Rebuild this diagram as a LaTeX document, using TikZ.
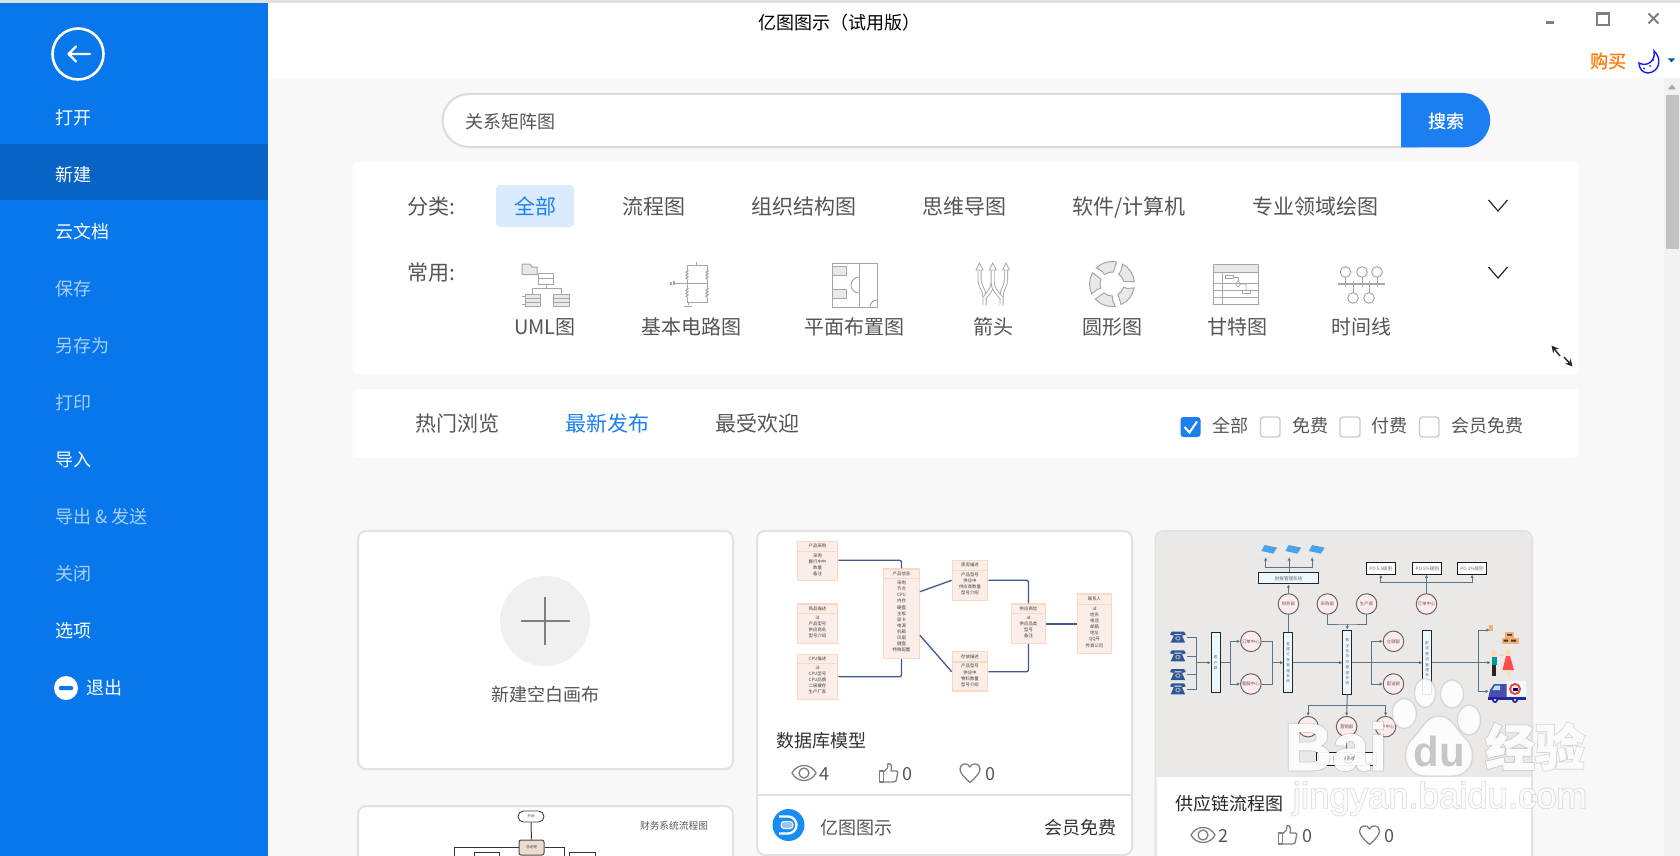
\documentclass[tikz,border=0pt]{standalone}
\usepackage{fontspec}
\setmainfont{Noto Sans CJK SC}
\newfontfamily\wmsans{Liberation Sans}
\usetikzlibrary{arrows.meta,calc,decorations.pathmorphing}
\definecolor{sideblue}{HTML}{0977EC}
\definecolor{sidedark}{HTML}{0863C4}
\definecolor{sidedim}{HTML}{A9CFF7}
\definecolor{pagebg}{HTML}{F8F8F8}
\definecolor{txtgray}{HTML}{555555}
\definecolor{accent}{HTML}{1B7FF2}
\definecolor{cardline}{HTML}{E2E2E2}
\definecolor{icongray}{HTML}{A6A6A6}
\definecolor{iconfill}{HTML}{E8E8E8}
\definecolor{statgray}{HTML}{808080}
\definecolor{dbline}{HTML}{FAD9C2}
\definecolor{dbfill}{HTML}{FBEEE8}
\definecolor{dbconn}{HTML}{41598F}
\definecolor{scline}{HTML}{587587}
\definecolor{scbg}{HTML}{EAE9E8}
\definecolor{lapblue}{HTML}{4AA3E8}
\definecolor{phoneblue}{HTML}{2F5597}
\tikzset{
 tb/.style={inner sep=0pt,text height=16.8pt,text depth=1.2pt,font=\fontsize{18}{20}\selectfont},
 tc/.style={inner sep=0pt,text height=18.6pt,text depth=1.4pt,font=\fontsize{21}{23}\selectfont,text=txtgray},
 tl/.style={inner sep=0pt,text height=17.5pt,text depth=2.5pt,font=\fontsize{20}{22}\selectfont,text=txtgray},
 side/.style={tb,anchor=west,text=white},
 sidedimmed/.style={tb,anchor=west,text=sidedim},
 icn/.style={draw=icongray,line width=1pt},
 icf/.style={draw=icongray,fill=iconfill,line width=1pt},
 card/.style={draw=cardline,line width=2pt,fill=white,rounded corners=8pt},
 panel/.style={fill=white,rounded corners=5pt},
 chk/.style={draw=cardline!90!black,line width=1.4pt,fill=white,rounded corners=3pt},
 chev/.style={draw=black!85,line width=1.2pt},
 stat/.style={draw=statgray,line width=1.3pt},
 dbb/.style={draw=dbline,fill=dbfill,line width=1.2pt,inner sep=0pt},
 dbhdr/.style={draw=dbline,line width=1.2pt},
 dbt/.style={inner sep=0pt,font=\fontsize{4.4}{6.1}\selectfont,text=black!75,align=center},
 dbc/.style={draw=dbconn,line width=1.3pt,rounded corners=2pt},
 sc/.style={draw=scline,line width=1pt},
 sca/.style={sc,-{Latex[length=3.2pt,width=3.4pt]}},
 scc/.style={circle,draw=black!60,fill=white!92!red,line width=1pt,minimum size=20.5pt,inner sep=0pt,font=\fontsize{4.4}{5}\selectfont,text=black!65},
 scb/.style={draw=black!85,fill=white!92!cyan,line width=1pt,inner sep=0pt,font=\fontsize{4.6}{5.2}\selectfont,text=black!60,align=center},
 arrowdbl/.style={icongray,double=white,double distance=2.2pt,line width=.9pt},
 eyeicon/.pic={
  \draw[stat] (-12,0) .. controls (-7,-10) and (7,-10) .. (12,0) .. controls (7,10) and (-7,10) .. (-12,0) -- cycle;
  \draw[stat] (0,0) circle[radius=5];
 },
 thumbicon/.pic={
  \draw[stat,line join=round] (-9,-2) rectangle (-5,9);
  \draw[stat,line join=round] (-5,-1) -- (-1,-5) -- (-0.5,-9.5) .. controls (3,-10) and (3.5,-6) .. (2.5,-2) -- (8,-2) .. controls (9.5,-2) and (9.5,0) .. (9,1) -- (7.5,8) .. controls (7,9) and (6,9) .. (5,9) -- (-5,9);
 },
 hearticon/.pic={
  \draw[stat,line join=round] (0,9.5) .. controls (-6,4) and (-10,0) .. (-10,-4) .. controls (-10,-10) and (-2,-11) .. (0,-6) .. controls (2,-11) and (10,-10) .. (10,-4) .. controls (10,0) and (6,4) .. (0,9.5) -- cycle;
 },
 laptop/.pic={
  \fill[white!92!black] (-28,5) -- (0,-6) -- (30,4) -- (0,14) -- cycle;
  \fill[lapblue] (-3,-20) -- (33,-12) -- (22,6) -- (-13,-2) -- cycle;
 },
 phone/.pic={
  \fill[phoneblue] (-23,-8) -- (-18,-17) -- (18,-17) -- (23,-8) -- (12,-5) -- (10,-10) -- (-10,-10) -- (-12,-5) -- cycle;
  \fill[phoneblue] (-11,-7) -- (11,-7) -- (21,16) -- (-21,16) -- cycle;
  \fill[white!45!phoneblue] (0,3) circle[x radius=8,y radius=7];
  \fill[black!50!phoneblue] (0,3) circle[x radius=3,y radius=3];
 }
}
\newcommand{\dbent}[8]{%
 \node[dbb,minimum width=#4pt,minimum height=#5pt] (#1) at (#2,#3) {};
 \draw[dbhdr] ([yshift=-#6pt]#1.north west) -- ([yshift=-#6pt]#1.north east);
 \node[dbt] (#1h) at ([yshift=-0.5*#6pt]#1.north) {#7};
 \node[dbt,anchor=north] (#1r) at ([yshift=-#6pt-2pt]#1.north) {#8};
}
% name x y font ringbold corebold text
\newcommand{\wmtxt}[7]{%
 \node[inner sep=0pt,anchor=base,font={#4\addfontfeature{FakeBold=#5}},text=black!50,text opacity=0.3] (#1o) at (#2,#3) {#7};
 \node[inner sep=0pt,anchor=base,font={#4\addfontfeature{FakeBold=#6}},text=white,text opacity=0.93] (#1) at (#2,#3) {#7};
}
\begin{document}
\begin{tikzpicture}[x=1pt,y=-1pt]
\clip (0,0) rectangle (1680,856);
% backgrounds
\fill[white] (0,0) rectangle (1680,856);
\fill[black!12] (0,0) rectangle (1680,3);
\fill[pagebg] (268,78) rectangle (1680,856);
% sidebar
\fill[sideblue] (0,3) rectangle (268,856);
\fill[sidedark] (0,144) rectangle (268,200);
\node[circle,draw=white,line width=2.6pt,minimum size=51pt,inner sep=0pt] (back) at (78,54) {};
\draw[white,line width=2.2pt,line cap=round,line join=round] (90,54) -- (68.5,54) (76,46.5) -- (68.5,54) -- (76,61.5);
\node[side] (s1) at (55,117) {打开};
\node[side] (s2) at (55,174) {新建};
\node[side] (s3) at (55,231) {云文档};
\node[sidedimmed] (s4) at (55,288) {保存};
\node[sidedimmed] (s5) at (55,345) {另存为};
\node[sidedimmed] (s6) at (55,402) {打印};
\node[side] (s7) at (55,459) {导入};
\node[sidedimmed] (s8) at (55,516) {导出 \& 发送};
\node[sidedimmed] (s9) at (55,573) {关闭};
\node[side] (s10) at (55,630) {选项};
\fill[white] (66,688) circle[radius=12];
\fill[sideblue,rounded corners=1pt] (59,686) rectangle (73,690);
\node[side] (s11) at (86,687) {退出};
% title bar
\node[tb,anchor=west,text=black] (title) at (758,22) {亿图图示（试用版）};
\fill[black!50] (1546,21) rectangle (1554,24);
\draw[black!50,line width=1.4pt] (1597,13) rectangle (1609,25);
\fill[black!50] (1597,12) rectangle (1609,15);
\draw[black!50,line width=2pt] (1648.5,13.5) -- (1658.5,23.5) (1658.5,13.5) -- (1648.5,23.5);
\node[tb,anchor=west,text=orange!95!red] (buy) at (1590,60) {\addfontfeature{FakeBold=1}购买};
\draw[draw=blue!90!white,fill=white,line width=1.4pt] (1654,51) .. controls (1662,58) and (1660,72) .. (1648,73) .. controls (1643,73) and (1639,69) .. (1639,63) .. controls (1646,67) and (1656,62) .. (1654,51) -- cycle;
\fill[blue!90!white] (1653,60) circle[radius=1] (1650,66) circle[radius=1] (1644,68.5) circle[radius=1];
\fill[blue!50!cyan!70!black] (1668,58.5) -- (1675,58.5) -- (1671.5,62.5) -- cycle;
% scrollbar
\fill[black!5] (1664,78) rectangle (1680,856);
\fill[black!24] (1665.5,95) rectangle (1679,249);
\fill[black!35] (1668,89.5) -- (1676,89.5) -- (1672,84.5) -- cycle;
% search
\draw[draw=black!14,line width=2pt,fill=white] (1420,94) -- (469,94) arc[start angle=-90,end angle=-270,radius=26.5] -- (1420,147);
\fill[accent] (1401,93) -- (1463,93) arc[start angle=-90,end angle=90,radius=27.2] -- (1401,147.5) -- cycle;
\node[tb,anchor=west,text=txtgray] (query) at (465,121) {关系矩阵图};
\node[tb,text=white] (searchbtn) at (1446,120) {\addfontfeature{FakeBold=.5}搜索};
% panels
\fill[panel] (352.5,162) rectangle (1579,374);
\fill[panel] (352.5,389) rectangle (1579,458);
% category row
\node[tc,anchor=west] (c0) at (407,206) {分类:};
\fill[accent!16!white,rounded corners=4pt] (496,185) rectangle (574,227);
\node[tc,text=accent] (c1) at (535,206) {全部};
\node[tc] (c2) at (653.5,206) {流程图};
\node[tc] (c3) at (803.5,206) {组织结构图};
\node[tc] (c4) at (964,206) {思维导图};
\node[tc] (c5) at (1129,206) {软件/计算机};
\node[tc] (c6) at (1315,206) {专业领域绘图};
\draw[chev] (1488.5,200) -- (1498,211) -- (1507.5,200);
\draw[chev] (1488.5,267) -- (1498,278) -- (1507.5,267);
% common row
\node[tc,anchor=west] (u0) at (407,272) {常用:};
\node[tl] (u1) at (545,327) {UML图};
\node[tl] (u2) at (691,327) {基本电路图};
\node[tl] (u3) at (854,327) {平面布置图};
\node[tl] (u4) at (993,327) {箭头};
\node[tl] (u5) at (1112,327) {圆形图};
\node[tl] (u6) at (1237,327) {甘特图};
\node[tl] (u7) at (1361,327) {时间线};
% UML icon
\draw[icf] (522,264) -- (530,264) -- (532,267) -- (537,267) -- (537,274.5) -- (522,274.5) -- cycle;
\draw[icn,fill=white] (538,273.5) rectangle (553,284);
\draw[icn] (538,278.5) -- (553,278.5) (546,284) -- (546,288) (532,294) -- (532,288) -- (561,288) -- (561,294);
\draw[icf] (525,294) rectangle (540,306);
\draw[icf] (553,294) rectangle (569,306);
\draw[icn,line width=.7pt] (525,298) -- (540,298) (525,302) -- (540,302) (553,298) -- (569,298) (553,302) -- (569,302);
\draw[icn,line width=.7pt] (522,296) -- (525,296) (522,304) -- (525,304);
% circuit icon
\draw[icn,decorate,decoration={zigzag,amplitude=1.1pt,segment length=3pt}] (687,270) -- (687,280);
\draw[icn,decorate,decoration={zigzag,amplitude=1.1pt,segment length=3pt}] (707,270) -- (707,280);
\draw[icn,decorate,decoration={zigzag,amplitude=1.1pt,segment length=3pt}] (687,288) -- (687,298);
\draw[icn,decorate,decoration={zigzag,amplitude=1.1pt,segment length=3pt}] (707,288) -- (707,298);
\draw[icn] (687,270) -- (687,265 ) -- (707,265) -- (707,270) (687,280) -- (687,288) (707,280) -- (707,288) (687,298) -- (687,302.5) -- (707,302.5) -- (707,298) (696,265) -- (696,262) (677,283) -- (707,283) (688,302.5) -- (688,305);
\draw[icn] (684,306) -- (692,306);
\draw[icn,line width=1.6pt] (671,281.5) -- (671,284.5) (674,281) -- (674,285);
\draw[icn] (674,283) -- (677,283);
% plan icon
\draw[icn] (832,263) rectangle (877,307);
\draw[icn] (859,263) -- (859,307);
\draw[icf] (832,266) rectangle (846,275);
\draw[icf] (832,289) rectangle (846,298);
\draw[icn] (859,277) arc[start angle=-90,end angle=-270,radius=8];
\draw[icn] (870,307) arc[start angle=180,end angle=270,radius=7];
% arrows icon
\draw[arrowdbl] (984.5,305) -- (984.5,296) .. controls (984.5,290) and (979.5,286) .. (979.5,280) -- (979.5,268);
\draw[arrowdbl] (1001.5,305) -- (1001.5,296) .. controls (1001.5,290) and (1006,286) .. (1006,280) -- (1006,268);
\draw[arrowdbl] (984.5,298) .. controls (990,291) and (992.7,288) .. (992.7,282) -- (992.7,268);
\draw[arrowdbl] (1001.5,298) .. controls (995.5,291) and (992.7,288) .. (992.7,282);
\foreach \ax in {979.5,992.7,1006}{\draw[icf,line width=.8pt,fill=white] (\ax-3.5,270) -- (\ax,263) -- (\ax+3.5,270) -- cycle;}
% circle icon
\begin{scope}[shift={(1112,284)}]
\foreach \a in {10,82,154,226,298}{
 \draw[icf] (\a:22.5) arc[start angle=\a,delta angle=56,radius=22.5] -- (\a+50:12) arc[start angle=\a+50,delta angle=-44,radius=12] -- (\a+6:16) -- cycle;
}
\end{scope}
% gantt icon
\draw[icn] (1213,264.5) rectangle (1258,304);
\fill[iconfill] (1213.5,265) rectangle (1257.5,272);
\draw[icn,line width=.8pt] (1213,272.5) -- (1258,272.5) (1213,283) -- (1258,283) (1213,290) -- (1258,290) (1213,297) -- (1258,297) (1222,272.5) -- (1222,304);
\draw[icn,line width=.7pt] (1225,275) rectangle (1233,278) (1233,277) -- (1238,277) -- (1238,281);
\draw[icn,line width=.7pt] (1238,281) -- (1240.5,284) -- (1238,287) -- (1235.5,284) -- cycle (1240.5,284) -- (1246,284) -- (1246,290);
\draw[icn,line width=.7pt] (1242,290) rectangle (1250,293.5);
% timeline icon
\draw[icn] (1345.5,272) circle[radius=5.3] (1362,272) circle[radius=5.3] (1377,272) circle[radius=5.3] (1353,298) circle[radius=5.3] (1369,298) circle[radius=5.3];
\draw[icn,line width=1.3pt] (1338,284) -- (1385,284);
\draw[icn] (1345.5,277) -- (1345.5,287) (1362,277) -- (1362,287) (1377,277) -- (1377,287) (1353,281) -- (1353,293) (1369,281) -- (1369,293);
% expand icon
\draw[black!85,line width=1.4pt,-{Stealth[length=7pt,width=7pt,inset=2pt]}] (1560,356) -- (1551.5,345.5);
\draw[black!85,line width=1.4pt,-{Stealth[length=7pt,width=7pt,inset=2pt]}] (1564,357) -- (1572.5,366.5);
% filter row
\node[tc] (f1) at (457,423) {热门浏览};
\node[tc,text=accent] (f2) at (607,423) {最新发布};
\node[tc] (f3) at (757,423) {最受欢迎};
\fill[accent,rounded corners=3pt] (1180.5,417) rectangle (1200.5,437);
\draw[white,line width=2pt] (1184.5,427) -- (1189.5,432.5) -- (1197,421.5);
\node[tb,anchor=west,text=txtgray] (k1) at (1212,425) {全部};
\draw[chk] (1260.5,417) rectangle (1280,437);
\node[tb,anchor=west,text=txtgray] (k2) at (1292.5,425) {免费};
\draw[chk] (1340,417) rectangle (1360,437);
\node[tb,anchor=west,text=txtgray] (k3) at (1371,425) {付费};
\draw[chk] (1419.5,417) rectangle (1439,437);
\node[tb,anchor=west,text=txtgray] (k4) at (1451.5,425) {会员免费};
% new blank card
\draw[card] (358,531) rectangle (733,769);
\node[circle,fill=black!6,minimum size=90pt,inner sep=0pt] (plus) at (545,621) {};
\draw[black!50,line width=1.1pt] (521,621) -- (569.5,621) (545,597) -- (545,645);
\node[tb,text=txtgray] (newtxt) at (545,694) {新建空白画布};
% lower-left card
\draw[card] (358,806) rectangle (733,880);
\node[draw=black!75,fill=white,line width=.9pt,rounded corners=5.5pt,minimum width=26pt,minimum height=11pt,inner sep=0pt,font=\fontsize{3.6}{4}\selectfont,text=black!70] (ft) at (531,816.5) {开始};
\node[draw=black!70,fill=black!10!brown!25!white,line width=1pt,rounded corners=2pt,minimum width=25pt,minimum height=15pt,inner sep=0pt,font=\fontsize{3.6}{4}\selectfont,text=black!70] (fm) at (531.5,847.5) {总经理};
\draw[black!75,line width=1pt] (ft) -- (fm);
\coordinate (fl) at (454.5,858);
\coordinate (fr) at (564,858);
\draw[black!80,line width=.9pt] (fm.west) -| (fl);
\draw[black!80,line width=.9pt] (fm.east) -| (fr);
\draw[black!80,line width=.9pt] (474.5,858) |- (499.5,852.5) -- (499.5,858);
\draw[black!80,line width=.9pt] (569.5,858) |- (595,852.5) -- (595,858);
\node[inner sep=0pt,font=\fontsize{9.7}{11}\selectfont,text=black!65] (ftitle) at (674,826) {财务系统流程图};
% database card
\draw[card] (757,531) rectangle (1132,855);
\draw[cardline,line width=2pt] (757,795) -- (1132,795);
\dbent{A}{817.5}{561.2}{40.4}{39}{10}{产品采购}{采购\\履行中中\\数量\\备注}
\dbent{B}{817.5}{623.7}{40.4}{39.3}{10}{商品描述}{id\\产品型号\\供应商名\\型号介绍}
\dbent{C}{817.5}{677}{40.4}{45.4}{10}{CPU描述}{id\\CPU型号\\CPU品牌\\二级缓存\\生产厂家}
\dbent{D}{901.5}{613.7}{35.6}{89.3}{10.3}{产品信息}{采购\\节点\\CPU\\内存\\硬盘\\主板\\显卡\\电源\\机箱\\风扇\\键盘\\特殊配置}
\dbent{E}{970}{580.5}{35.4}{40.4}{11}{库房描述}{产品型号\\供应中\\供应商数量\\型号介绍}
\dbent{F}{970}{671.3}{35.4}{39.3}{11}{存放描述}{产品型号\\供应中\\物料数量\\型号介绍}
\dbent{G}{1028.5}{623.7}{34.4}{39.3}{10}{供应商信}{id\\供应品类\\型号\\备注}
\dbent{H}{1094.5}{623.7}{34.4}{59.3}{11.3}{联系人}{id\\姓名\\电话\\邮箱\\地址\\QQ号\\传真公司}
\draw[dbc] (A.east |- 0,560.3) -- (D.north |- 0,560.3) -- (D.north);
\draw[dbc] (C.east |- 0,676.7) -- (D.south |- 0,676.7) -- (D.south);
\draw[dbc] (D.east |- 0,591.7) -- (E.west |- 0,580.3);
\draw[dbc] (D.east |- 0,635.3) -- (F.west |- 0,671.7);
\draw[dbc] (E.east |- 0,580.3) -- (G.north |- 0,580.3) -- (G.north);
\draw[dbc] (F.east |- 0,671.7) -- (G.south |- 0,671.7) -- (G.south);
\draw[dbc] (G.east |- 0,624) -- (H.west |- 0,624);
\node[tb,anchor=west,text=black!80] (dbt1) at (776,740) {数据库模型};
\pic at (804,773) {eyeicon};
\node[tb,anchor=center,text=txtgray] (dbn1) at (824,773) {4};
\pic at (888.5,773) {thumbicon};
\node[tb,text=txtgray] (dbn2) at (907,773) {0};
\pic at (970,773) {hearticon};
\node[tb,text=txtgray] (dbn3) at (990.5,773) {0};
\fill[accent!90!cyan] (788.5,825) circle[radius=16];
\draw[white,line width=2.4pt] (779,816.5) -- (788,816.5) arc[start angle=-90,end angle=90,radius=8.5] -- (779,833.5);
\fill[white!55!accent,draw=white,line width=1pt,rounded corners=3pt] (781,821.5) rectangle (793,828.5);
\node[tb,anchor=west,text=txtgray] (brand) at (820.5,827) {亿图图示};
\node[tb,anchor=east,text=black!80] (vip) at (1116.5,827) {会员免费};
% supply chain card
\draw[card] (1155.5,531) rectangle (1532,880);
\fill[scbg,rounded corners=8pt] (1156.5,532) rectangle (1531,600);
\fill[scbg] (1156.5,540) rectangle (1531,776.5);
\begin{scope}[shift={(1140,520)},x=0.34435pt,y=-0.33333pt]
\coordinate (l1) at (365,112);
\coordinate (l2) at (433,112);
\coordinate (l3) at (500,112);
\pic at (365,95) {laptop};
\pic at (435,95) {laptop};
\pic at (503,95) {laptop};
\node[scb,minimum width=59.6pt,minimum height=11.3pt] (bx) at (431.5,175) {财报管理系统};
\node[scb,draw=black!90,fill=white,minimum width=29pt,minimum height=11.5pt] (p1) at (699.5,145.5) {PO 5.5级别};
\node[scb,draw=black!90,fill=white,minimum width=29pt,minimum height=11.5pt] (p2) at (834.5,145.5) {PO 5\%级别};
\node[scb,draw=black!90,fill=white,minimum width=29pt,minimum height=11.5pt] (p3) at (964.5,145.5) {PO 1\%级别};
\node[scc] (c1) at (431,252) {财务部};
\node[scc] (c2) at (544,252) {采购部};
\node[scc] (c3) at (658,252) {生产部};
\node[scc] (c4) at (832,252) {订单中心};
\node[scc] (c5) at (322,364) {订单中心};
\node[scc] (c6) at (322,492) {客服中心};
\node[scc] (c7) at (736,364) {仓储部};
\node[scc] (c8) at (736,492) {配送部};
\node[scc] (c9) at (488,620) {财务部};
\node[scc] (c10) at (600,620) {营销部};
\node[scc] (c11) at (713,620) {客户中心};
\node[scb,font=\fontsize{3.6}{5.2}\selectfont,minimum width=9pt,minimum height=60pt,text width=7pt] (b1) at (220,428) {客\\户\\群};
\node[scb,font=\fontsize{3.6}{5.4}\selectfont,minimum width=9pt,minimum height=60pt,text width=7pt] (b2) at (430.5,428) {客\\服\\订\\单\\管\\理\\系\\统};
\node[scb,font=\fontsize{3.6}{5.4}\selectfont,minimum width=9pt,minimum height=64pt,text width=7pt] (b3) at (602,426) {数\\字\\化\\协\\同\\管\\理\\系\\统};
\node[scb,font=\fontsize{3.6}{5.4}\selectfont,minimum width=9pt,minimum height=64pt,text width=7pt] (b4) at (834,426) {配\\送\\物\\流\\管\\理\\系\\统};
\node[scb,draw=black!90,fill=white,minimum width=60pt,minimum height=13pt] (bb) at (600,717) {客户关系模块};
% connectors
\coordinate (bus1) at (433,143);
\draw[sca] (bx.north -| l2) -- (l2);
\draw[sc] (bus1) -- (bus1 -| l1);
\draw[sc] (bus1) -- (bus1 -| l3);
\draw[sca] (bus1 -| l1) -- (l1);
\draw[sca] (bus1 -| l3) -- (l3);
\draw[sca] (c1.north) -- (bx.south -| c1);
\draw[sc] (c1.south) -- (b2.north -| c1);
\coordinate (bus2) at (832,188);
\draw[sca] (c4.north) -- (p2.south -| c4);
\draw[sca] (bus2) -| (p1.south);
\draw[sca] (bus2) -| (p3.south);
\draw[sc] (c2.south) |- (b3.north |- 0,312) -| (c3.south);
\draw[sca] (b3.north |- 0,312) -- (b3.north);
\coordinate (ph1) at (135,352);
\coordinate (ph2) at (135,408);
\coordinate (ph3) at (135,464);
\coordinate (ph4) at (135,507);
\coordinate (jn) at (165,428);
\draw[sc] (ph1) -| (jn);
\draw[sc] (ph4) -| (jn);
\draw[sc] (ph2) -- (ph2 -| jn);
\draw[sc] (ph3) -- (ph3 -| jn);
\draw[sca] (jn) -- (b1.west |- jn);
\coordinate (jl) at (262,428);
\draw[sc] (b1.east |- jl) -- (jl);
\draw[sca] (jl) |- (c5.west);
\draw[sca] (jl) |- (c6.west);
\coordinate (jr) at (385,428);
\draw[sc] (c5.east) -| (jr);
\draw[sc] (c6.east) -| (jr);
\draw[sca] (jr) -- (b2.west |- jr);
\draw[sca] (b2.east |- jr) -- (b3.west |- jr);
\draw[sca] (b3.east |- jr) -- (b4.west |- jr);
\coordinate (jm) at (673,428);
\draw[sca] (jm) |- (c7.west);
\draw[sca] (jm) |- (c8.west);
\coordinate (ja) at (982,428);
\coordinate (ia) at (1016,330);
\coordinate (ib) at (1018,428);
\coordinate (ic) at (1013,514);
\draw[sca] (b4.east |- ja) -- (ib);
\draw[sca] (ja) |- (ia);
\draw[sca] (ja) |- (ic);
\coordinate (bus3) at (600,555);
\draw[sca] (b3.south) -- (c10.north);
\draw[sca] (bus3) -| (c9.north);
\draw[sca] (bus3) -| (c11.north);
\draw[sc] (c10.south) -- (bb.north);
\pic at (110,352) {phone};
\pic at (110,408) {phone};
\pic at (110,464) {phone};
\pic at (110,507) {phone};
\end{scope}
% right hand icons
\fill[orange!55!brown!60!white] (1489,625) rectangle (1493,631);
\fill[orange!55!brown!60!white] (1505,631.5) rectangle (1514,637.5);
\fill[orange!55!brown!60!white] (1501.5,637.5) rectangle (1518.5,643.5);
\fill[black!60!brown] (1503.5,639.5) rectangle (1508,641.5) (1511,639.5) rectangle (1516,641.5) (1507,634) rectangle (1512,635.5);
\fill[black!12] (1494,641) rectangle (1500,642);
\fill[orange!30!white] (1494,653.5) circle[radius=3];
\fill[teal!80!cyan] (1491.7,657) rectangle (1496.7,665);
\fill[black!85] (1492.2,665) rectangle (1496.2,675.5);
\fill[orange!30!white] (1508,652.5) circle[radius=3];
\fill[red!70!white] (1506,656) -- (1510,656) -- (1514,670) -- (1502.5,670) -- cycle;
\fill[orange!30!white] (1507,670) rectangle (1509.5,676);
\fill[black!15] (1499,654) rectangle (1504,655.5);
\fill[blue!10!cyan!8!white] (1506.5,681) rectangle (1525.5,696);
\fill[blue!55!black!70!white] (1488.5,696.5) -- (1490,690) -- (1494,684) -- (1506.5,684) -- (1506.5,698) -- (1488.5,698) -- cycle;
\fill[white!70!cyan] (1492.5,690) -- (1495,685.5) -- (1500,685.5) -- (1500,690) -- cycle;
\fill[blue!55!black!85!white] (1488,697) rectangle (1526,699.5);
\fill[blue!55!black!85!white] (1495,700) circle[radius=3] (1515,700) circle[radius=3];
\fill[white] (1495,700) circle[radius=1.2] (1515,700) circle[radius=1.2];
\draw[red!75!white,line width=2pt] (1515,689) circle[radius=5];
\fill[black!60!blue] (1512.5,688) rectangle (1517.5,691);
% stats of the supply chain card
\node[tb,anchor=west,text=black!85] (sct) at (1175,803) {供应链流程图};
\pic at (1203,835) {eyeicon};
\node[tb,text=txtgray] (scn1) at (1223,835) {2};
\pic at (1287.5,835) {thumbicon};
\node[tb,text=txtgray] (scn2) at (1307,835) {0};
\pic at (1369.5,835) {hearticon};
\node[tb,text=txtgray] (scn3) at (1389.5,835) {0};
% watermark
\foreach \ex/\ey/\erx/\ery in {1425/693/10.5/14.5,1452/694/11.5/14,1404.3/713.5/12/15,1469/720/11.5/15}{
 \draw[black!22,draw opacity=.6,fill=white,fill opacity=.88,line width=1.4pt] (\ex,\ey) circle[x radius=\erx,y radius=\ery];
}
\draw[black!22,draw opacity=.6,fill=white,fill opacity=.88,line width=1.4pt] (1439,716) .. controls (1452,716) and (1456,730) .. (1465,738) .. controls (1478,750) and (1474,776) .. (1452,776) .. controls (1444,776) and (1434,776) .. (1426,776) .. controls (1404,776) and (1400,750) .. (1413,738) .. controls (1422,730) and (1426,716) .. (1439,716) -- cycle;
\node[inner sep=0pt,anchor=base,font=\wmsans\fontsize{42}{42}\selectfont\bfseries,text=black!22] (wdu) at (1439,766) {du};
\wmtxt{wbai}{1336}{770}{\wmsans\fontsize{66}{66}\selectfont\bfseries}{4}{1.5}{Bai}
\wmtxt{wjy}{1535}{766}{\fontsize{50}{50}\selectfont\bfseries}{4}{1}{经验}
\wmtxt{wcom}{1440}{808}{\wmsans\fontsize{36.5}{37}\selectfont}{4}{0.5}{jingyan.baidu.com}
\end{tikzpicture}
\end{document}
